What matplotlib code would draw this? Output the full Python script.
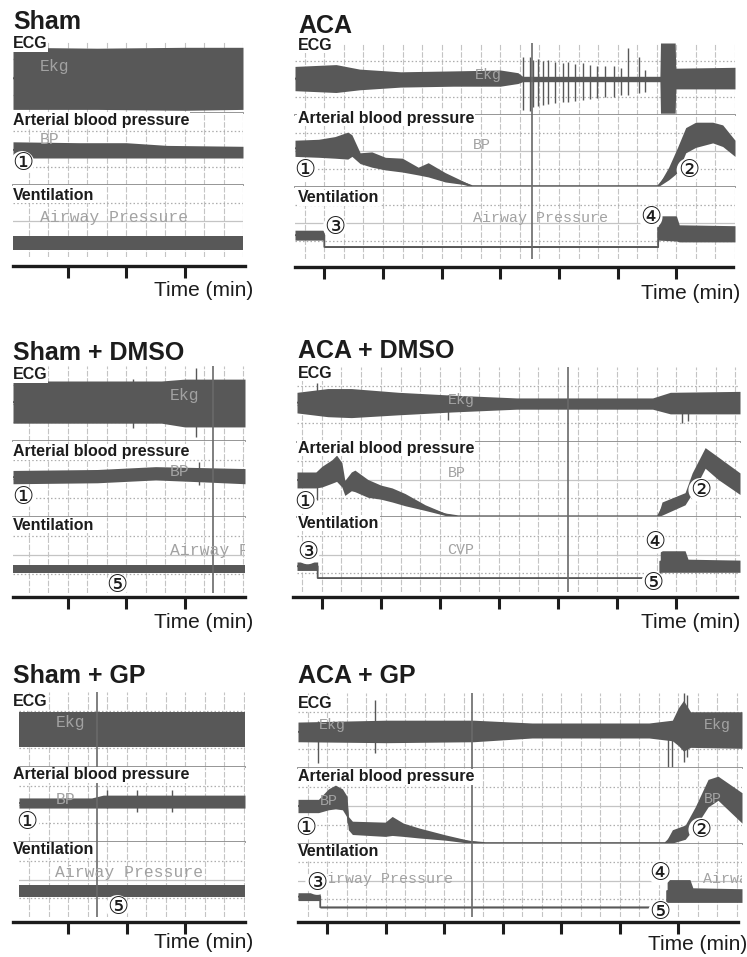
import matplotlib.pyplot as plt
import numpy as np
from matplotlib.ticker import MultipleLocator

W, H = 747, 957
TRACE = "#585858"
GRID = "#c4c4c4"
SEP = "#8e8e8e"
INK = "#1c1c1c"
MONO = "#a2a2a2"
SANS = "Liberation Sans"
CIRCLED = ["DejaVu Sans", "Noto Sans CJK JP"]

# channel envelopes: (time [min], upper, lower), channel height = 4 units
sham_ecg = [(0.06, 3.65, 0.2), (1.5, 3.6, 0.2), (3.0, 3.65, 0.15), (4.0, 3.65, 0.2)]
sham_bp = [(0.06, 2.4, 1.5), (1.2, 2.35, 1.5), (2.0, 2.35, 1.5), (2.7, 2.2, 1.5), (4.0, 2.15, 1.5)]
sham_vent = [(0.06, 1.15, 0.4), (4.0, 1.15, 0.4)]

aca_ecg = [(0.5, 2.7, 1.35), (1.2, 2.8, 1.25), (1.6, 2.55, 1.4), (2.3, 2.4, 1.55),
           (3.2, 2.45, 1.6), (4.0, 2.5, 1.6), (4.3, 2.35, 1.75), (4.38, 2.15, 1.85),
           (6.72, 2.15, 1.85), (6.73, 4.0, 0.1), (6.98, 4.0, 0.1), (6.99, 2.6, 1.45),
           (8.0, 2.65, 1.45)]
aca_ecg_spikes = [(4.39, 3.2, 0.3), (4.51, 3.25, 0.2), (4.56, 3.05, 0.45), (4.65, 3.1, 0.5),
                  (4.73, 3.0, 0.55), (4.82, 3.05, 0.6), (4.94, 2.95, 0.65), (5.06, 2.9, 0.7),
                  (5.16, 2.95, 0.75), (5.28, 2.85, 0.8), (5.41, 2.9, 0.85), (5.53, 2.8, 0.9),
                  (5.65, 2.75, 0.95), (5.79, 2.7, 1.0), (5.93, 2.75, 1.0), (6.05, 2.6, 1.1),
                  (6.18, 3.75, 1.1), (6.36, 3.2, 1.2), (6.47, 2.5, 1.3)]
aca_bp = [(0.5, 2.6, 1.7), (0.9, 2.65, 1.65), (1.18, 2.8, 1.6), (1.4, 3.05, 1.55),
          (1.47, 2.9, 1.7), (1.61, 1.9, 1.3), (1.81, 1.95, 1.1), (2.04, 1.65, 0.95),
          (2.33, 1.6, 0.83), (2.6, 1.1, 0.67), (2.77, 1.35, 0.56), (3.06, 0.8, 0.28),
          (3.35, 0.35, 0.15), (3.52, 0.08, 0.02), (6.69, 0.08, 0.02), (6.87, 1.1, 0.4),
          (7.02, 2.2, 0.8), (7.16, 3.3, 1.9), (7.33, 3.6, 2.2), (7.62, 3.6, 2.45),
          (7.79, 3.45, 2.25), (8.0, 2.6, 1.7)]
aca_vent = [(0.5, 1.6, 1.05), (1.0, 1.6, 1.05), (1.0, 0.7, 0.64), (6.69, 0.7, 0.64),
            (6.69, 2.4, 1.05), (7.0, 2.4, 1.0), (7.05, 1.9, 0.95), (8.0, 1.85, 0.95)]

sham_dmso_ecg = [(0.06, 3.2, 0.95), (2.6, 3.2, 0.95), (3.0, 3.3, 0.75), (4.03, 3.3, 0.75)]
sham_dmso_ecg_spikes = [(2.11, 3.3, 0.7), (3.2, 3.9, 0.2)]
sham_dmso_bp = [(0.06, 2.45, 1.75), (1.5, 2.5, 1.8), (2.5, 2.65, 1.95), (3.3, 2.6, 1.85),
                (4.03, 2.55, 1.75)]
sham_dmso_bp_spikes = [(3.24, 2.9, 1.7)]
sham_dmso_vent = [(0.06, 1.47, 1.05), (4.03, 1.47, 1.05)]

aca_dmso_ecg = [(0.58, 2.65, 1.55), (1.1, 2.85, 1.35), (1.5, 2.85, 1.3), (2.3, 2.65, 1.45),
                (3.2, 2.5, 1.6), (4.3, 2.35, 1.75), (6.6, 2.35, 1.75), (6.9, 2.65, 1.5),
                (8.08, 2.7, 1.5)]
aca_dmso_ecg_spikes = [(0.92, 3.15, 1.6), (3.14, 2.5, 1.17), (7.1, 2.4, 1.0), (7.2, 2.4, 1.1)]
aca_dmso_bp = [(0.58, 2.4, 1.55), (0.9, 2.4, 1.55), (1.0, 2.7, 1.6), (1.17, 3.05, 1.8),
               (1.25, 3.3, 1.9), (1.34, 2.9, 1.6), (1.39, 1.95, 1.15), (1.5, 2.4, 1.4),
               (1.56, 2.5, 1.35), (1.78, 2.0, 1.05), (2.0, 1.7, 0.95), (2.19, 1.55, 0.8),
               (2.41, 1.25, 0.6), (2.75, 0.65, 0.35), (3.09, 0.2, 0.08), (3.31, 0.06, 0.02),
               (6.69, 0.06, 0.02), (6.76, 0.8, 0.1), (7.15, 1.3, 0.65), (7.27, 2.35, 1.25),
               (7.49, 3.7, 2.6), (7.71, 3.2, 2.0), (8.08, 2.35, 1.2)]
aca_dmso_bp_spikes = [(0.92, 2.4, 0.9)]
aca_dmso_vent = [(0.58, 1.6, 1.15), (0.93, 1.6, 1.15), (0.93, 0.77, 0.72), (6.73, 0.77, 0.72),
                 (6.73, 2.2, 1.05), (7.15, 2.2, 1.05), (7.2, 1.75, 1.05), (8.08, 1.7, 1.05)]

sham_gp_ecg = [(0.16, 2.93, 1.07), (4.02, 2.93, 1.07)]
sham_gp_bp = [(0.16, 2.35, 1.81), (1.4, 2.35, 1.81), (1.6, 2.5, 1.81), (4.02, 2.5, 1.81)]
sham_gp_bp_spikes = [(1.66, 2.77, 1.8), (2.17, 2.77, 1.6), (2.77, 2.77, 1.6)]
sham_gp_vent = [(0.16, 1.7, 1.07), (4.02, 1.7, 1.07)]

aca_gp_ecg = [(0.5, 2.45, 1.4), (2.0, 2.55, 1.35), (3.5, 2.55, 1.4), (4.5, 2.4, 1.6),
              (6.5, 2.4, 1.6), (6.9, 2.55, 1.45), (7.0, 3.2, 1.2), (7.09, 3.6, 0.9),
              (7.21, 3.0, 1.1), (8.09, 3.0, 1.05)]
aca_gp_ecg_spikes = [(0.85, 2.5, 0.27), (1.82, 3.63, 0.8), (6.83, 1.6, 0.05), (6.9, 1.6, 0.05),
                     (7.1, 4.0, 0.3), (7.15, 3.9, 0.6)]
aca_gp_bp = [(0.5, 2.35, 1.65), (0.85, 2.35, 1.65), (1.02, 2.9, 1.8), (1.14, 3.1, 1.85),
             (1.26, 2.9, 1.8), (1.34, 2.5, 1.4), (1.36, 1.45, 0.75), (1.43, 1.2, 0.5),
             (1.99, 1.15, 0.4), (2.11, 1.45, 0.45), (2.3, 1.1, 0.4), (2.56, 0.85, 0.32),
             (3.02, 0.48, 0.2), (3.41, 0.2, 0.05), (3.7, 0.07, 0.03), (6.78, 0.07, 0.03),
             (6.9, 0.75, 0.05), (7.12, 1.0, 0.25), (7.29, 1.95, 0.9), (7.51, 3.4, 1.95),
             (7.68, 3.57, 2.3), (8.09, 2.7, 1.1)]
aca_gp_vent = [(0.5, 1.33, 0.9), (0.88, 1.33, 0.9), (0.88, 0.56, 0.5), (6.81, 0.56, 0.5),
               (6.81, 2.05, 0.8), (7.2, 2.05, 0.8), (7.25, 1.6, 0.8), (8.09, 1.55, 0.8)]

sham_ticks = [1, 2, 3]
aca_ticks = [1, 2, 3, 4, 5, 6, 7]
channel_names = ["ECG", "Arterial blood pressure", "Ventilation"]

panels = [
    dict(title="Sham", title_y=29, lx=13, x0=13, x1=243, rows=(41, 113, 185, 257),
         xlim=(0.06, 4.0), axis=(13, 245, 266), time_xy=(253, 290), label_y=(44, 120, 195),
         traces=(sham_ecg, sham_bp, sham_vent), spikes=([], [], []), ticks=sham_ticks,
         cursor=None, mono_size=11.8,
         mono=[(0, 0.52, 2.56, "Ekg"), (1, 0.52, 2.55, "BP"), (2, 0.52, 2.17, "Airway Pressure")],
         marks=[(1, 0.22, 1.22, "①")]),
    dict(title="ACA", title_y=33, lx=298, x0=295, x1=735, rows=(43, 115, 187, 259),
         xlim=(0.5, 8.0), axis=(295, 733, 267), time_xy=(740, 293), label_y=(45, 118, 198),
         traces=(aca_ecg, aca_bp, aca_vent), spikes=(aca_ecg_spikes, [], []), ticks=aca_ticks,
         cursor=4.54, mono_size=10.8,
         mono=[(0, 3.57, 2.2, "Ekg"), (1, 3.54, 2.33, "BP"), (2, 3.54, 2.28, "Airway Pressure")],
         marks=[(1, 0.67, 0.94, "①"), (1, 7.21, 0.94, "②"), (2, 1.18, 1.78, "③"),
                (2, 6.56, 2.33, "④")]),
    dict(title="Sham + DMSO", title_y=360, lx=13, x0=13, x1=245, rows=(366, 441, 517, 593),
         xlim=(0.06, 4.03), axis=(13, 245, 597), time_xy=(253, 622), label_y=(375, 452, 525),
         traces=(sham_dmso_ecg, sham_dmso_bp, sham_dmso_vent),
         spikes=(sham_dmso_ecg_spikes, sham_dmso_bp_spikes, []), ticks=sham_ticks,
         cursor=3.48, mono_size=11.8,
         mono=[(0, 2.74, 2.42, "Ekg"), (1, 2.74, 2.37, "BP"), (2, 2.74, 2.26, "Airway Pressure")],
         marks=[(1, 0.22, 1.05, "①"), (2, 1.84, 0.42, "⑤")]),
    dict(title="ACA + DMSO", title_y=358, lx=298, x0=297, x1=740, rows=(367, 442, 517, 592),
         xlim=(0.58, 8.08), axis=(293, 737, 597), time_xy=(740, 622), label_y=(373, 448, 523),
         traces=(aca_dmso_ecg, aca_dmso_bp, aca_dmso_vent),
         spikes=(aca_dmso_ecg_spikes, aca_dmso_bp_spikes, []), ticks=aca_ticks,
         cursor=5.17, mono_size=10.8,
         mono=[(0, 3.14, 2.24, "Ekg"), (1, 3.14, 2.35, "BP"), (2, 3.12, 2.24, "CVP")],
         marks=[(1, 0.71, 0.8, "①"), (1, 7.41, 1.44, "②"), (2, 0.76, 2.12, "③"),
                (2, 6.64, 2.67, "④"), (2, 6.61, 0.48, "⑤")]),
    dict(title="Sham + GP", title_y=683, lx=13, x0=19, x1=245, rows=(692, 767, 842, 917),
         xlim=(0.16, 4.02), axis=(13, 245, 922), time_xy=(253, 943), label_y=(702, 775, 850),
         traces=(sham_gp_ecg, sham_gp_bp, sham_gp_vent),
         spikes=([], sham_gp_bp_spikes, []), ticks=sham_ticks,
         cursor=1.49, mono_size=11.8,
         mono=[(0, 0.78, 2.4, "Ekg"), (1, 0.78, 2.24, "BP"), (2, 0.78, 2.35, "Airway Pressure")],
         marks=[(1, 0.3, 1.07, "①"), (2, 1.84, 0.53, "⑤")]),
    dict(title="ACA + GP", title_y=683, lx=298, x0=298, x1=742, rows=(693, 768, 844, 917),
         xlim=(0.5, 8.09), axis=(298, 738, 922), time_xy=(747, 945), label_y=(703, 777, 852),
         traces=(aca_gp_ecg, aca_gp_bp, aca_gp_vent),
         spikes=(aca_gp_ecg_spikes, [], []), ticks=aca_ticks,
         cursor=3.48, mono_size=10.8,
         mono=[(0, 0.85, 2.3, "Ekg"), (0, 7.43, 2.3, "Ekg"), (1, 0.88, 2.24, "BP"),
               (1, 7.43, 2.35, "BP"), (2, 0.85, 2.08, "Airway Pressure"),
               (2, 7.43, 2.08, "Airway Pressure")],
         marks=[(1, 0.63, 0.85, "①"), (1, 7.38, 0.75, "②"), (2, 0.83, 1.87, "③"),
                (2, 6.69, 2.4, "④"), (2, 6.69, 0.27, "⑤")]),
]


def box(x0, y0, x1, y1):
    return [x0 / W, 1 - y1 / H, (x1 - x0) / W, (y1 - y0) / H]


def channel_axes(p, k):
    ax = fig.add_axes(box(p["x0"], p["rows"][k], p["x1"], p["rows"][k + 1]))
    ax.set_xlim(*p["xlim"])
    ax.set_ylim(0, 4)
    ax.xaxis.set_major_locator(MultipleLocator(1 / 3))
    ax.set_yticks([2])
    ax.set_yticks([1, 3], minor=True)
    ax.grid(axis="x", color=GRID, lw=0.8, ls=(0, (5, 1.5)))
    ax.grid(axis="y", which="major", color=GRID, lw=0.9, ls="-")
    ax.grid(axis="y", which="minor", color="#adadad", lw=0.9, ls=(0, (1.2, 1.8)))
    ax.tick_params(which="both", length=0, labelbottom=False, labelleft=False)
    ax.set_axisbelow(True)
    for s in ("left", "right", "top"):
        ax.spines[s].set_visible(False)
    if k < 2:
        ax.spines["bottom"].set_color(SEP)
        ax.spines["bottom"].set_linewidth(1.3)
    else:
        ax.spines["bottom"].set_visible(False)
    return ax


def draw_trace(ax, pts, spikes):
    t, hi, lo = (np.array(v) for v in zip(*pts))
    ax.fill_between(t, lo, hi, color=TRACE, lw=0, zorder=2)
    ax.plot(t, (hi + lo) / 2, color=TRACE, lw=1.3, zorder=2)
    if spikes:
        st, shi, slo = zip(*spikes)
        ax.vlines(st, slo, shi, color=TRACE, lw=1.0, zorder=2)


def time_axis(p):
    x0, x1, y = p["axis"]
    ax = fig.add_axes(box(x0, y, x1, y + 12))
    t0, t1 = p["xlim"]
    scale = (t1 - t0) / (p["x1"] - p["x0"])
    ax.set_xlim(t0 + (x0 - p["x0"]) * scale, t0 + (x1 - p["x0"]) * scale)
    ax.set_xticks(p["ticks"])
    ax.set_yticks([])
    ax.xaxis.set_ticks_position("top")
    ax.tick_params(axis="x", direction="in", length=8.5, width=2.2, color=INK,
                   labeltop=False, labelbottom=False)
    for s in ("bottom", "left", "right"):
        ax.spines[s].set_visible(False)
    ax.spines["top"].set_linewidth(2.4)
    ax.spines["top"].set_color(INK)
    ax.patch.set_alpha(0)


fig = plt.figure(figsize=(W / 100, H / 100), dpi=100)

for p in panels:
    axes = [channel_axes(p, k) for k in range(3)]
    for k, ax in enumerate(axes):
        draw_trace(ax, p["traces"][k], p["spikes"][k])
        if p["cursor"] is not None:
            ax.axvline(p["cursor"], color="#6a6a6a", lw=1.2, zorder=4)
    for k, t, u, s in p["mono"]:
        axes[k].text(t, u, s, family="Liberation Mono", color=MONO, fontsize=p["mono_size"],
                     ha="left", va="center", zorder=5, clip_on=True)
    for k, t, u, s in p["marks"]:
        axes[k].text(t, u, s, family=CIRCLED, color=INK, fontsize=17, ha="center",
                     va="center", zorder=6, clip_on=False,
                     bbox=dict(boxstyle="circle,pad=0.0", fc="white", ec="none"))
    time_axis(p)

    fig.text(p["lx"] / W, 1 - p["title_y"] / H, p["title"], family=SANS, weight="bold",
             fontsize=18, color=INK, va="baseline", ha="left")
    for name, y in zip(channel_names, p["label_y"]):
        fig.text(p["lx"] / W, 1 - y / H, name, family=SANS, weight="bold", fontsize=11.5,
                 color=INK, va="center", ha="left",
                 bbox=dict(boxstyle="square,pad=0.05", fc="white", ec="none"))
    tx, ty = p["time_xy"]
    fig.text(tx / W, 1 - ty / H, "Time (min)", family=SANS, fontsize=15, color=INK,
             ha="right", va="center")

fig.savefig("out.png", dpi=100)
